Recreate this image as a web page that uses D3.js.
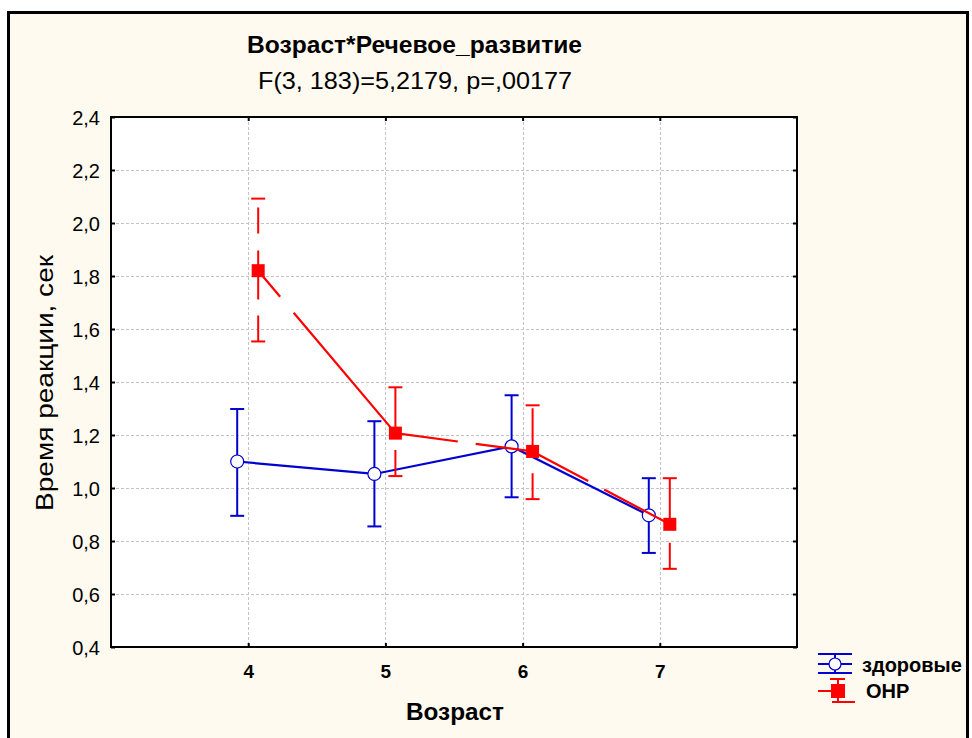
<!DOCTYPE html>
<html>
<head>
<meta charset="utf-8">
<script src="https://cdn.jsdelivr.net/npm/d3@7"></script>
<style>
  html, body { margin: 0; padding: 0; background: #fff; }
  svg { display: block; font-family: "Liberation Sans", Arial, sans-serif; }
</style>
</head>
<body>
<svg id="chart" width="972" height="738"></svg>
<script>
// values
const ages = [4, 5, 6, 7];
const yTicks = [0.4, 0.6, 0.8, 1.0, 1.2, 1.4, 1.6, 1.8, 2.0, 2.2, 2.4];

const healthyMean = [1.10, 1.053, 1.157, 0.897];
const healthyLow  = [0.895, 0.855, 0.965, 0.755];
const healthyHigh = [1.298, 1.252, 1.35, 1.037];

const onrMean = [1.82, 1.207, 1.138, 0.863];
const onrLow  = [1.553, 1.045, 0.958, 0.695];
const onrHigh = [2.092, 1.38, 1.312, 1.037];

const seriesNames = ['здоровые', 'ОНР'];
const title = 'Возраст*Речевое_развитие';
const subtitle = 'F(3, 183)=5,2179, p=,00177';
const xTitle = 'Возраст';
const yTitle = 'Время реакции, сек';

const blue = '#0000d0';
const red = '#ff0000';

const svg = d3.select('#chart');

// outer frame
svg.append('rect')
  .attr('x', 8.5).attr('y', 12.5)
  .attr('width', 959).attr('height', 740)
  .attr('fill', '#fffaef')
  .attr('stroke', '#000').attr('stroke-width', 3);

const plot = { left: 111, right: 797, top: 117, bottom: 647 };

const x = d3.scaleLinear().domain([3, 8]).range([plot.left, plot.right]);
const y = d3.scaleLinear().domain([0.4, 2.4]).range([plot.bottom, plot.top]);

const fmt = d => d.toFixed(1).replace('.', ',');

svg.append('rect')
  .attr('x', plot.left).attr('y', plot.top)
  .attr('width', plot.right - plot.left).attr('height', plot.bottom - plot.top)
  .attr('fill', '#fff');

// gridlines
const grid = svg.append('g').attr('stroke', '#c4c4c4').attr('stroke-dasharray', '3,2').attr('stroke-width', 1);
grid.selectAll('.hg').data(yTicks.slice(1, -1)).join('line')
  .attr('x1', plot.left).attr('x2', plot.right)
  .attr('y1', d => Math.round(y(d)) + 0.5).attr('y2', d => Math.round(y(d)) + 0.5);
grid.selectAll('.vg').data(ages).join('line')
  .attr('y1', plot.top).attr('y2', plot.bottom)
  .attr('x1', d => Math.round(x(d)) + 0.5).attr('x2', d => Math.round(x(d)) + 0.5);

// axes
const yAxis = svg.append('g').attr('transform', `translate(${plot.left},0)`)
  .call(d3.axisLeft(y).tickValues(yTicks).tickFormat(fmt).tickSizeInner(-4).tickSizeOuter(0).tickPadding(11));
const yAxisR = svg.append('g').attr('transform', `translate(${plot.right},0)`)
  .call(d3.axisRight(y).tickValues(yTicks).tickFormat('').tickSizeInner(-4).tickSizeOuter(0));
const xAxis = svg.append('g').attr('transform', `translate(0,${plot.bottom})`)
  .call(d3.axisBottom(x).tickValues(ages).tickFormat(d3.format('d')).tickSizeInner(-4).tickSizeOuter(0).tickPadding(18));
const xAxisT = svg.append('g').attr('transform', `translate(0,${plot.top})`)
  .call(d3.axisTop(x).tickValues(ages).tickFormat('').tickSizeInner(-4).tickSizeOuter(0));

[yAxis, yAxisR, xAxis, xAxisT].forEach(a => {
  a.select('.domain').remove();
  a.selectAll('.tick line').attr('stroke', '#000').attr('stroke-width', 2);
});
yAxis.attr('font-size', null).attr('font-family', null);
xAxis.attr('font-size', null).attr('font-family', null);
yAxis.selectAll('.tick text')
  .style('font-size', '20px').attr('fill', '#000')
  .attr('dy', '0.35em');
xAxis.selectAll('.tick text')
  .style('font-size', '19px').style('font-weight', 'bold').attr('fill', '#000');

svg.append('rect')
  .attr('x', plot.left).attr('y', plot.top)
  .attr('width', plot.right - plot.left).attr('height', plot.bottom - plot.top)
  .attr('fill', 'none').attr('stroke', '#000').attr('stroke-width', 2);

// series
const healthy = ages.map((a, i) => ({ a, m: healthyMean[i], lo: healthyLow[i], hi: healthyHigh[i] }));
const onr = ages.map((a, i) => ({ a, m: onrMean[i], lo: onrLow[i], hi: onrHigh[i] }));
const hx = d => x(d.a) - 11;
const rx = d => x(d.a) + 10;
const capW = 14;

// healthy
const gH = svg.append('g');
gH.append('path')
  .attr('d', d3.line().x(hx).y(d => y(d.m))(healthy))
  .attr('fill', 'none').attr('stroke', blue).attr('stroke-width', 2.2);
gH.selectAll('.eb').data(healthy).join('line')
  .attr('x1', hx).attr('x2', hx).attr('y1', d => y(d.lo)).attr('y2', d => y(d.hi))
  .attr('stroke', blue).attr('stroke-width', 2);
['lo', 'hi'].forEach(k => {
  gH.selectAll('.cap' + k).data(healthy).join('line')
    .attr('x1', d => hx(d) - capW / 2).attr('x2', d => hx(d) + capW / 2)
    .attr('y1', d => y(d[k])).attr('y2', d => y(d[k]))
    .attr('stroke', blue).attr('stroke-width', 2);
});

// ONR
const gR = svg.append('g');
// each segment of the red line starts its own dash pattern
d3.pairs(onr).forEach(([p, q], i) => {
  gR.append('line')
    .attr('x1', rx(p)).attr('y1', y(p.m)).attr('x2', rx(q)).attr('y2', y(q.m))
    .attr('stroke', red).attr('stroke-width', 2.2)
    .attr('stroke-dasharray', i === 0 ? '34,21,1000' : '63,18,1000');
});
gR.selectAll('.eb').data(onr).join('line')
  .attr('x1', rx).attr('x2', rx).attr('y1', d => y(d.lo)).attr('y2', d => y(d.hi))
  .attr('stroke', red).attr('stroke-width', 2).attr('stroke-dasharray', '26,16,49,17');
['lo', 'hi'].forEach(k => {
  gR.selectAll('.cap' + k).data(onr).join('line')
    .attr('x1', d => rx(d) - capW / 2).attr('x2', d => rx(d) + capW / 2)
    .attr('y1', d => y(d[k])).attr('y2', d => y(d[k]))
    .attr('stroke', red).attr('stroke-width', 2);
});

// markers on top
gH.selectAll('circle').data(healthy).join('circle')
  .attr('cx', hx).attr('cy', d => y(d.m)).attr('r', 6.5)
  .attr('fill', '#fff').attr('stroke', blue).attr('stroke-width', 1.2);
gR.selectAll('rect').data(onr).join('rect')
  .attr('x', d => rx(d) - 6.5).attr('y', d => y(d.m) - 6.5)
  .attr('width', 13).attr('height', 13).attr('fill', red);

// titles
svg.append('text').attr('x', 247).attr('y', 53)
  .style('font-size', '24px').style('font-weight', 'bold')
  .attr('textLength', 335).attr('lengthAdjust', 'spacingAndGlyphs').text(title);
svg.append('text').attr('x', 258).attr('y', 89)
  .style('font-size', '24px')
  .attr('textLength', 314).attr('lengthAdjust', 'spacingAndGlyphs').text(subtitle);
svg.append('text').attr('x', 406).attr('y', 720)
  .style('font-size', '23px').style('font-weight', 'bold')
  .attr('textLength', 98).attr('lengthAdjust', 'spacingAndGlyphs').text(xTitle);
svg.append('text')
  .attr('transform', 'translate(53,383) rotate(-90)')
  .attr('text-anchor', 'middle').style('font-size', '24px')
  .attr('textLength', 256).attr('lengthAdjust', 'spacingAndGlyphs').text(yTitle);

// legend
const lg = svg.append('g');
const lx0 = 818, lx1 = 852, lcx = 835;
// healthy symbol
[654, 664, 673].forEach(ly => {
  lg.append('line').attr('x1', lx0).attr('x2', lx1).attr('y1', ly).attr('y2', ly)
    .attr('stroke', blue).attr('stroke-width', 2);
});
lg.append('line').attr('x1', lcx).attr('x2', lcx).attr('y1', 654).attr('y2', 673)
  .attr('stroke', blue).attr('stroke-width', 2);
lg.append('circle').attr('cx', lcx).attr('cy', 664).attr('r', 6)
  .attr('fill', '#fff').attr('stroke', blue).attr('stroke-width', 1.2);
// ONR symbol
lg.append('line').attr('x1', 830).attr('x2', 845).attr('y1', 679).attr('y2', 679)
  .attr('stroke', red).attr('stroke-width', 2);
lg.append('line').attr('x1', 838).attr('x2', 838).attr('y1', 679).attr('y2', 702)
  .attr('stroke', red).attr('stroke-width', 2);
lg.append('line').attr('x1', lx0).attr('x2', 834).attr('y1', 691).attr('y2', 691)
  .attr('stroke', red).attr('stroke-width', 2);
lg.append('line').attr('x1', 832).attr('x2', 855).attr('y1', 702).attr('y2', 702)
  .attr('stroke', red).attr('stroke-width', 2);
lg.append('rect').attr('x', 831).attr('y', 684).attr('width', 14).attr('height', 14).attr('fill', red);

lg.selectAll('text').data(seriesNames).join('text')
  .attr('x', (d, i) => i === 0 ? 862 : 866)
  .attr('y', (d, i) => i === 0 ? 672 : 698)
  .style('font-size', '20px').style('font-weight', 'bold')
  .text(d => d);
</script>
</body>
</html>
